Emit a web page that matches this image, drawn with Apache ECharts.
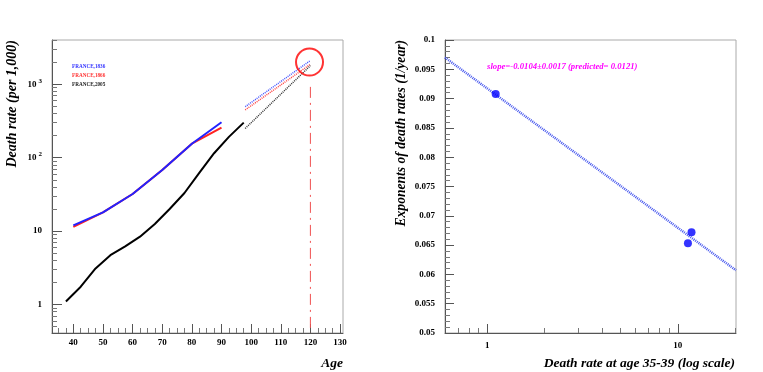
<!DOCTYPE html>
<html>
<head>
<meta charset="utf-8">
<script src="https://cdn.jsdelivr.net/npm/echarts@6/dist/echarts.min.js"></script>
<style>
  html, body { margin: 0; padding: 0; background: #fff; }
  #chart { width: 763px; height: 372px; }
</style>
</head>
<body>
<div id="chart"></div>
<script>
// ---- left panel : death rate (per 1,000) vs age ----
var ages1836 = [40, 50, 60, 70, 80, 90];
var rate1836 = [12, 18, 32, 68, 155, 303];
var ages1866 = [40, 50, 60, 70, 80, 90];
var rate1866 = [11.4, 18, 32, 68, 155, 257];
var ages2005 = [37.5, 42.5, 47.5, 52.5, 57.5, 62.5, 67.5, 72.5, 77.5, 82.5, 87.5, 92.5, 97.5];
var rate2005 = [1.1, 1.75, 3.1, 4.7, 6.2, 8.4, 12.5, 20, 33, 62, 115, 192, 300];
// extrapolations to age 120 (dotted)
var extAges = [98, 120];
var ext1836 = [494, 2100];
var ext1866 = [447, 1870];
var ext2005 = [250, 1790];
var circlePoint = [119.7, 2000];
var limitAge = [120, 120];
var limitRate = [920, 0.41];

var ageMajor = [40, 50, 60, 70, 80, 90, 100, 110, 120, 130];
var ageMinor = [35, 37.5, 42.5, 45, 47.5, 52.5, 55, 57.5, 62.5, 65, 67.5, 72.5, 75, 77.5,
  82.5, 85, 87.5, 92.5, 95, 97.5, 102.5, 105, 107.5, 112.5, 115, 117.5, 122.5, 125, 127.5];
var rateMajor = [1, 10, 100, 1000];
var rateMinor = [0.5, 0.6, 0.7, 0.8, 0.9, 2, 3, 4, 5, 6, 7, 8, 9, 20, 30, 40, 50, 60, 70, 80, 90,
  200, 300, 400, 500, 600, 700, 800, 900, 2000, 3000, 4000];

// ---- right panel : exponent vs death rate at 35-39 ----
var rateAt35 = [1.107, 11.8, 11.3];
var exponent = [0.0908, 0.0672, 0.0653];
var fitX = [0.6, 20.2];
var fitY = [0.0970, 0.0607];
var logMajor = [1, 10];
var logMinor = [0.7, 0.8, 0.9, 2, 3, 4, 5, 6, 7, 8, 9, 20];

var serif = "Liberation Serif";
var tickLabel = { fontFamily: serif, fontWeight: "bold", fontSize: 9, color: "#000" };

function pairs(xs, ys) {
  return xs.map(function (x, i) { return [x, ys[i]]; });
}

var myChart = echarts.init(document.getElementById("chart"), null, { renderer: "canvas" });

var options = {
  animation: false,
  backgroundColor: "#fff",
  grid: [
    { left: 52, top: 40, width: 291, height: 293, show: true, borderColor: "#aaa", borderWidth: 1, containLabel: false },
    { left: 445, top: 40, width: 291, height: 293, show: true, borderColor: "#aaa", borderWidth: 1, containLabel: false }
  ],
  legend: {
    left: 67,
    top: 64,
    orient: "vertical",
    icon: "none",
    itemWidth: 0,
    itemHeight: 6,
    itemGap: 3.5,
    padding: 0,
    selectedMode: false,
    textStyle: { fontFamily: serif, fontWeight: "bold", fontSize: 5.2 },
    data: [
      { name: "FRANCE,1836", textStyle: { color: "#3333ff" } },
      { name: "FRANCE,1866", textStyle: { color: "#ff3333" } },
      { name: "FRANCE,2005", textStyle: { color: "#222" } }
    ]
  },
  xAxis: [
    {
      gridIndex: 0, type: "value", min: 32.8, max: 131,
      axisLine: { show: true, lineStyle: { color: "#555", width: 1 } },
      axisTick: { show: true, inside: true, length: 9, customValues: ageMajor, lineStyle: { color: "#555" } },
      axisLabel: Object.assign({ customValues: ageMajor, margin: 5 }, tickLabel),
      splitLine: { show: false }
    },
    {
      gridIndex: 0, type: "value", min: 32.8, max: 131, position: "bottom",
      axisLine: { show: false },
      axisTick: { show: true, inside: true, length: 5, customValues: ageMinor, lineStyle: { color: "#777" } },
      axisLabel: { show: false },
      splitLine: { show: false }
    },
    {
      gridIndex: 1, type: "log", min: 0.6, max: 20.2,
      axisLine: { show: true, lineStyle: { color: "#555", width: 1 } },
      axisTick: { show: true, inside: true, length: 9, customValues: logMajor, lineStyle: { color: "#555" } },
      axisLabel: Object.assign({ customValues: logMajor, margin: 8 }, tickLabel),
      splitLine: { show: false }
    },
    {
      gridIndex: 1, type: "log", min: 0.6, max: 20.2, position: "bottom",
      axisLine: { show: false },
      axisTick: { show: true, inside: true, length: 5, customValues: logMinor, lineStyle: { color: "#777" } },
      axisLabel: { show: false },
      splitLine: { show: false }
    }
  ],
  yAxis: [
    {
      gridIndex: 0, type: "log", min: 0.41, max: 4000,
      axisLine: { show: true, lineStyle: { color: "#555", width: 1 } },
      axisTick: { show: true, inside: true, length: 10, customValues: rateMajor, lineStyle: { color: "#555" } },
      axisLabel: Object.assign({
        customValues: rateMajor,
        margin: 10,
        formatter: function (v) {
          var p = Math.round(Math.log10(v));
          if (p <= 1) return String(Math.round(v));
          return "{n|10}{s|" + p + "}";
        },
        rich: {
          n: { fontFamily: serif, fontWeight: "bold", fontSize: 9, color: "#000" },
          s: { fontFamily: serif, fontWeight: "bold", fontSize: 7, color: "#000", padding: [0, 0, 7, 2] }
        }
      }, tickLabel),
      splitLine: { show: false }
    },
    {
      gridIndex: 0, type: "log", min: 0.41, max: 4000, position: "left",
      axisLine: { show: false },
      axisTick: { show: true, inside: true, length: 5, customValues: rateMinor, lineStyle: { color: "#777" } },
      axisLabel: { show: false },
      splitLine: { show: false }
    },
    {
      gridIndex: 1, type: "value", min: 0.05, max: 0.1, interval: 0.005,
      axisLine: { show: true, lineStyle: { color: "#555", width: 1 } },
      axisTick: { show: true, inside: true, length: 9, lineStyle: { color: "#555" } },
      minorTick: { show: true, splitNumber: 5, length: 5, lineStyle: { color: "#777" } },
      axisLabel: Object.assign({ margin: 10 }, tickLabel),
      splitLine: { show: false }
    }
  ],
  graphic: [
    {
      type: "text", x: 12, y: 40, rotation: Math.PI / 2,
      style: { text: "Death rate (per 1,000)", fontFamily: serif, fontWeight: "bold", fontStyle: "italic",
        fontSize: 14, fill: "#000", textAlign: "right", textVerticalAlign: "middle" }
    },
    {
      type: "text", x: 343, y: 364,
      style: { text: "Age", fontFamily: serif, fontWeight: "bold", fontStyle: "italic",
        fontSize: 13.5, fill: "#000", textAlign: "right", textVerticalAlign: "middle" }
    },
    {
      type: "text", x: 401, y: 40, rotation: Math.PI / 2,
      style: { text: "Exponents of death rates (1/year)", fontFamily: serif, fontWeight: "bold", fontStyle: "italic",
        fontSize: 13.6, fill: "#000", textAlign: "right", textVerticalAlign: "middle" }
    },
    {
      type: "text", x: 735, y: 364,
      style: { text: "Death rate at age 35-39 (log scale)", fontFamily: serif, fontWeight: "bold", fontStyle: "italic",
        fontSize: 13.5, fill: "#000", textAlign: "right", textVerticalAlign: "middle" }
    },
    {
      type: "text", x: 487, y: 67,
      style: { text: "slope=-0.0104\u00b10.0017 (predicted= 0.0121)", fontFamily: serif, fontWeight: "bold", fontStyle: "italic",
        fontSize: 8.7, fill: "#ff00ff", textAlign: "left", textVerticalAlign: "middle" }
    }
  ],
  series: [
    {
      name: "FRANCE,1866", type: "line", xAxisIndex: 0, yAxisIndex: 0, showSymbol: false,
      data: pairs(ages1866, rate1866), lineStyle: { color: "#ff2222", width: 2 }, itemStyle: { color: "#ff3333" }, z: 2
    },
    {
      name: "FRANCE,1836", type: "line", xAxisIndex: 0, yAxisIndex: 0, showSymbol: false,
      data: pairs(ages1836, rate1836), lineStyle: { color: "#2222ff", width: 2 }, itemStyle: { color: "#3333ff" }, z: 3
    },
    {
      name: "FRANCE,2005", type: "line", xAxisIndex: 0, yAxisIndex: 0, showSymbol: false,
      data: pairs(ages2005, rate2005), lineStyle: { color: "#000", width: 2 }, itemStyle: { color: "#222" }, z: 3
    },
    {
      type: "line", xAxisIndex: 0, yAxisIndex: 0, showSymbol: false,
      data: pairs(extAges, ext1836), lineStyle: { color: "#4455ff", width: 1.5, type: [1, 1] }
    },
    {
      type: "line", xAxisIndex: 0, yAxisIndex: 0, showSymbol: false,
      data: pairs(extAges, ext1866), lineStyle: { color: "#ff4444", width: 1.5, type: [1, 1] }
    },
    {
      type: "line", xAxisIndex: 0, yAxisIndex: 0, showSymbol: false,
      data: pairs(extAges, ext2005), lineStyle: { color: "#333", width: 1.5, type: [1, 1] }
    },
    {
      type: "line", xAxisIndex: 0, yAxisIndex: 0, showSymbol: false,
      data: pairs(limitAge, limitRate), lineStyle: { color: "#f05050", width: 1, type: [11, 5, 2, 5] }
    },
    {
      type: "scatter", xAxisIndex: 0, yAxisIndex: 0, symbol: "circle", symbolSize: 27,
      data: [circlePoint],
      itemStyle: { color: "rgba(0,0,0,0)", borderColor: "#ff0000", borderWidth: 2 }, z: 5
    },
    // right panel
    {
      type: "line", xAxisIndex: 2, yAxisIndex: 2, showSymbol: false,
      data: pairs(fitX, fitY), lineStyle: { color: "#4455ee", width: 2.5, type: [1, 1] }
    },
    {
      type: "scatter", xAxisIndex: 2, yAxisIndex: 2, symbol: "circle", symbolSize: 8,
      data: pairs(rateAt35, exponent), itemStyle: { color: "#0000ff" }, z: 5
    }
  ]
};
myChart.setOption(options);
</script>
</body>
</html>
